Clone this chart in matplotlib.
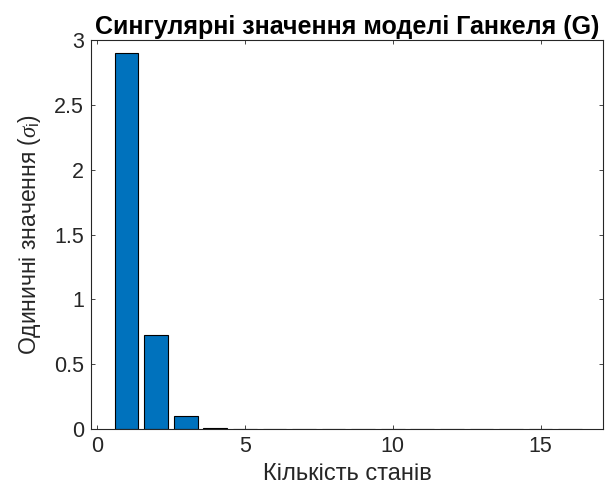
import numpy as np
import matplotlib
matplotlib.use("Agg")
import matplotlib.pyplot as plt

plt.rcParams['font.family'] = ['Liberation Sans', 'DejaVu Sans']
plt.rcParams['mathtext.fontset'] = 'custom'
plt.rcParams['mathtext.it'] = 'Liberation Serif:italic'
plt.rcParams['mathtext.rm'] = 'Liberation Sans'

# сингулярні значення Ганкеля
states = np.arange(1, 17)
hsv = [2.90, 0.725, 0.105, 0.012, 0.0015, 0.0004, 0.0001, 0.00005,
       0.00002, 0.00001, 0.000005, 0.000002, 0.000001, 0.0000005,
       0.0000002, 0.0000001]
xticks = [0, 5, 10, 15]
yticks = [0, 0.5, 1, 1.5, 2, 2.5, 3]

axcol = '#262626'

fig = plt.figure(figsize=(6.07, 4.99), dpi=100)
ax = fig.add_axes([0.150, 0.140, 0.843, 0.780])
ax.bar(states, hsv, width=0.8, color='#0072BD', edgecolor='black', linewidth=0.8)

ax.set_xlim(-0.2, 17.1)
ax.set_ylim(0, 3)
ax.set_xticks(xticks)
ax.set_yticks(yticks)
ax.set_yticklabels(['0', '0.5', '1', '1.5', '2', '2.5', '3'])
ax.tick_params(direction='in', length=3, width=0.6, colors=axcol,
               labelsize=15.5, top=True, right=True, pad=5)
for s in ax.spines.values():
    s.set_color(axcol)
    s.set_linewidth(0.8)

ax.set_xlabel('Кількість станів', fontsize=17, color=axcol, labelpad=4)
ax.set_ylabel(r'Одиничні значення ($\sigma_{\rm i}$)', fontsize=16.5, color=axcol, labelpad=8)
ax.set_title('Сингулярні значення моделі Ганкеля (G)', fontsize=18,
             fontweight='bold', color='black', pad=4)

fig.savefig('out.png', dpi=100)
